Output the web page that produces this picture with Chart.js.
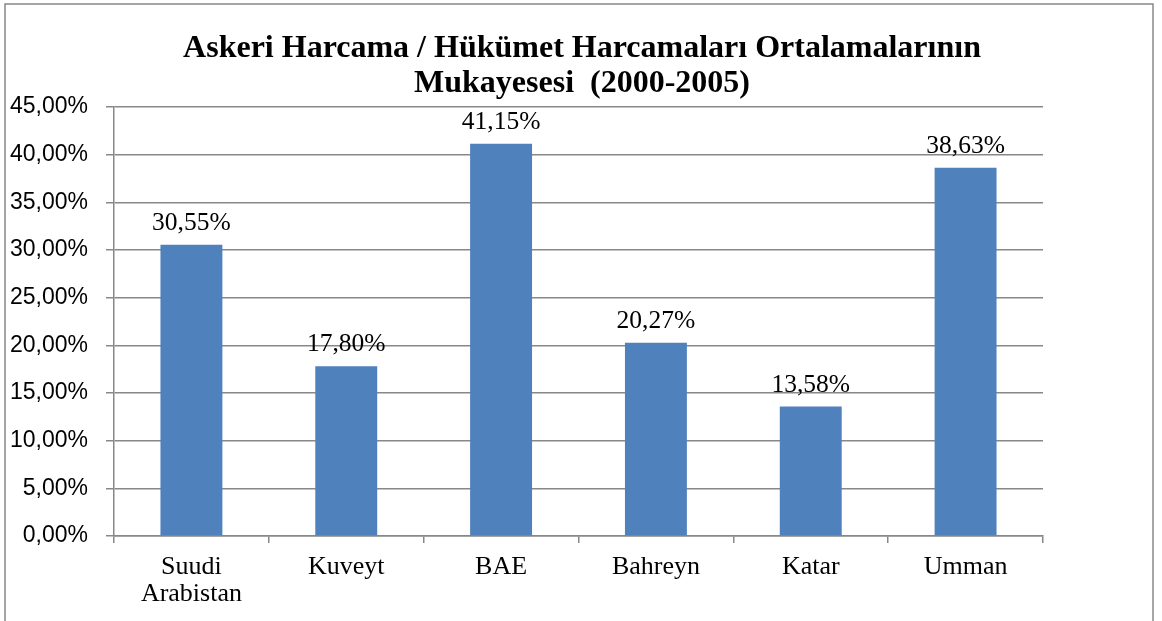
<!DOCTYPE html>
<html>
<head>
<meta charset="utf-8">
<script src="https://cdn.jsdelivr.net/npm/chart.js@4"></script>
<style>
  html, body { margin: 0; padding: 0; background: #fff; }
  #wrap { position: relative; width: 1162px; height: 621px; }
</style>
</head>
<body>
<div id="wrap"><canvas id="chart" width="1162" height="621"></canvas></div>
<script>
(() => {
    const ulkeler = [['Suudi', 'Arabistan'], 'Kuveyt', 'BAE', 'Bahreyn', 'Katar', 'Umman'];
    const oranlar = [30.55, 17.80, 41.15, 20.27, 13.58, 38.63];
    const baslik = ['Askeri Harcama / Hükümet Harcamaları Ortalamalarının', 'Mukayesesi  (2000-2005)'];

    const serif = '"Liberation Serif", "Times New Roman", serif';
    const gri = '#888888';

    function yuzde(v) { return v.toFixed(2).replace('.', ',') + '%'; }

    // Çerçeve + başlık + bar üstü değerler
    const cizimler = {
        id: 'cizimler',
        beforeDraw(chart) {
            const ctx = chart.ctx;
            ctx.save();
            ctx.strokeStyle = gri;
            ctx.lineWidth = 1.5;
            ctx.strokeRect(5, 4, 1148, 700);
            ctx.restore();
        },
        afterDatasetsDraw(chart) {
            const ctx = chart.ctx;
            ctx.save();
            ctx.fillStyle = '#000';
            ctx.textAlign = 'center';
            ctx.textBaseline = 'alphabetic';
            ctx.font = 'bold 32px ' + serif;
            ctx.fillText(baslik[0], 582, 57);
            ctx.fillText(baslik[1], 582, 92);

            ctx.font = '25.5px ' + serif;
            const meta = chart.getDatasetMeta(0);
            meta.data.forEach((bar, i) => {
                ctx.fillText(yuzde(oranlar[i]), bar.x, bar.y - 15);
            });
            ctx.restore();
        }
    };

    new Chart(document.getElementById('chart'), {
        type: 'bar',
        data: {
            labels: ulkeler,
            datasets: [{
                data: oranlar,
                backgroundColor: '#4F81BD',
                borderWidth: 0,
                barPercentage: 0.8,
                categoryPercentage: 0.5
            }]
        },
        options: {
            responsive: false,
            animation: false,
            layout: { padding: { top: 107, right: 119, bottom: 0, left: 0 } },
            plugins: {
                legend: { display: false },
                title: { display: false },
                tooltip: { enabled: false }
            },
            scales: {
                x: {
                    afterFit: s => { s.height = 85; },
                    grid: {
                        offset: true,
                        drawOnChartArea: false,
                        drawTicks: true,
                        tickLength: 7,
                        color: gri,
                        lineWidth: 1.5
                    },
                    border: { color: gri, width: 1.5 },
                    ticks: {
                        color: '#000',
                        padding: 10,
                        maxRotation: 0,
                        font: { family: serif, size: 26, lineHeight: 1.06 }
                    }
                },
                y: {
                    min: 0,
                    max: 45,
                    afterFit: s => { s.width = 114; },
                    grid: { color: gri, lineWidth: 1.5, tickLength: 8 },
                    border: { color: gri, width: 1.5 },
                    ticks: {
                        stepSize: 5,
                        color: '#000',
                        padding: 18,
                        font: { family: '"Liberation Sans", Arial, sans-serif', size: 23 },
                        callback: v => yuzde(v)
                    }
                }
            }
        },
        plugins: [cizimler]
    });
})();
</script>
</body>
</html>
